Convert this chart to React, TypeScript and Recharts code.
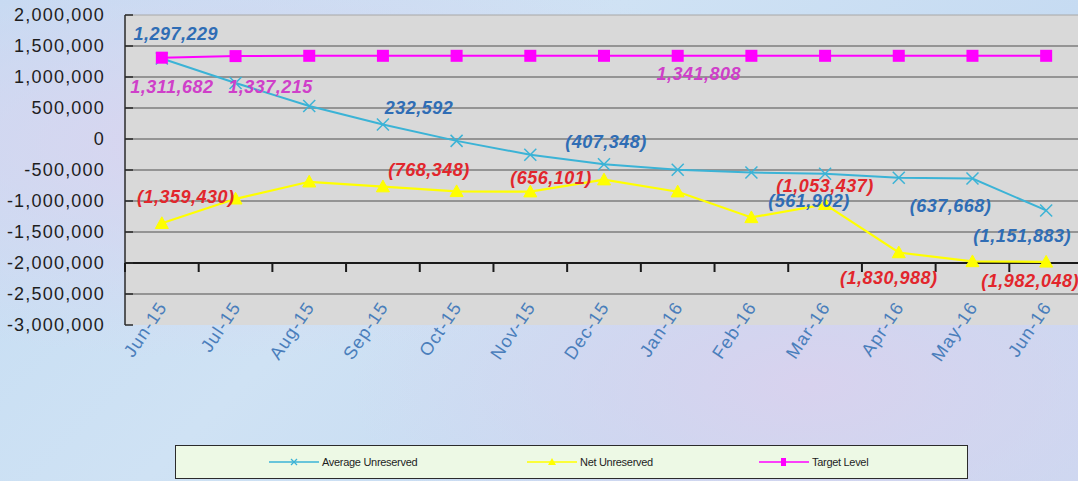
import React from 'react';
import { LineChart, Line, XAxis, YAxis, CartesianGrid, ReferenceLine, LabelList } from 'recharts';

// ---------- data ----------
const months = ['Jun-15', 'Jul-15', 'Aug-15', 'Sep-15', 'Oct-15', 'Nov-15', 'Dec-15', 'Jan-16', 'Feb-16', 'Mar-16', 'Apr-16', 'May-16', 'Jun-16'];
const averageUnreserved = [1297229, 903000, 532000, 232592, -30000, -255000, -407348, -495000, -540000, -561902, -625000, -637668, -1151883];
const netUnreserved = [-1359430, -965000, -690000, -768348, -845000, -850000, -656101, -850000, -1265000, -1053437, -1830988, -1975000, -1982048];
const targetLevel = [1311682, 1337215, 1341808, 1341808, 1341808, 1341808, 1341808, 1341808, 1341808, 1341808, 1341808, 1341808, 1341808];
const yTicks = [2000000, 1500000, 1000000, 500000, 0, -500000, -1000000, -1500000, -2000000, -2500000, -3000000];
const seriesNames = ['Average Unreserved', 'Net Unreserved', 'Target Level'];

// which points carry a data label (index list per series)
const avgLabelIdx = [0, 3, 6, 9, 11, 12];
const netLabelIdx = [0, 3, 6, 9, 10, 12];
const targetLabelIdx = [0, 1, 7];

// ---------- style / layout ----------
const W = 1078;
const H = 481;
const PLOT_TOP = 15;
const PLOT_BOTTOM = 325;
const PLOT_LEFT = 125;
const RIGHT_MARGIN = -5;
const X_AXIS_H = 30;
const Y_MIN = -3000000;
const Y_MAX = 2000000;
const AXIS_CROSS = -2000000;
const yOf = (v: number) => PLOT_TOP + ((Y_MAX - v) / (Y_MAX - Y_MIN)) * (PLOT_BOTTOM - PLOT_TOP);
const BAND = (W - RIGHT_MARGIN - PLOT_LEFT) / months.length;

const C_AVG = '#3bb3d6';
const C_NET = '#ffff00';
const C_TGT = '#ff00ff';
const C_AVG_LBL = '#2f6db5';
const C_NET_LBL = '#e2262c';
const C_TGT_LBL = '#cf3fc9';
const FONT = '"Liberation Sans", Arial, sans-serif';

// label placement offsets (dx, dy from the point), keyed by point index
const avgLabelPos: Record<number, [number, number]> = { 0: [14, -25], 3: [36, -17], 6: [2, -22], 9: [-16, 27], 11: [-22, 27], 12: [-24, 26] };
const netLabelPos: Record<number, [number, number]> = { 0: [24, -26], 3: [46, -17], 6: [-53, -2], 9: [0, -18], 10: [-10, 25], 12: [-16, 19] };
const tgtLabelPos: Record<number, [number, number]> = { 0: [10, 29], 1: [35, 31], 7: [21, 18] };

const fmt = (v: number) => (v < 0 ? `(${Math.abs(v).toLocaleString('en-US')})` : v.toLocaleString('en-US'));

const data = months.map((m, i) => ({
  month: m,
  avg: averageUnreserved[i],
  net: netUnreserved[i],
  target: targetLevel[i],
}));

const makeLabel = (idx: number[], pos: Record<number, [number, number]>, color: string) => (props: any) => {
  const { index, value } = props;
  if (!idx.includes(index)) return null;
  const px = props.x ?? props.viewBox?.x;
  const py = props.y ?? props.viewBox?.y;
  const [dx, dy] = pos[index] || [0, -20];
  return (
    <text
      key={`lbl-${color}-${index}`}
      x={px + dx}
      y={py + dy}
      textAnchor="middle"
      dominantBaseline="central"
      fill={color}
      fontFamily={FONT}
      fontSize={18}
      fontWeight="bold"
      fontStyle="italic"
      letterSpacing={0.5}
    >
      {fmt(value)}
    </text>
  );
};

const XMark = (props: any) => {
  const { cx, cy, index } = props;
  if (cx == null || cy == null) return <g key={`x-${index}`} />;
  const s = 6;
  return (
    <g key={`x-${index}`}>
      <line x1={cx - s} y1={cy - s} x2={cx + s} y2={cy + s} stroke={C_AVG} strokeWidth={1.5} />
      <line x1={cx - s} y1={cy + s} x2={cx + s} y2={cy - s} stroke={C_AVG} strokeWidth={1.5} />
    </g>
  );
};

const TriMark = (props: any) => {
  const { cx, cy, index } = props;
  if (cx == null || cy == null) return <g key={`t-${index}`} />;
  const s = 6.5;
  return <polygon key={`t-${index}`} points={`${cx},${cy - s} ${cx + s},${cy + s * 0.8} ${cx - s},${cy + s * 0.8}`} fill={C_NET} stroke={C_NET} />;
};

const SqMark = (props: any) => {
  const { cx, cy, index } = props;
  if (cx == null || cy == null) return <g key={`s-${index}`} />;
  const s = 6;
  return <rect key={`s-${index}`} x={cx - s} y={cy - s} width={2 * s} height={2 * s} fill={C_TGT} />;
};

const XTick = (props: any) => {
  const { x, payload, index } = props;
  const half = BAND / 2;
  const yc = yOf(AXIS_CROSS);
  return (
    <g>
      <line x1={x - half} x2={x - half} y1={yc} y2={yc + 9} stroke="#1a1a1a" strokeWidth={2} />
      {index === months.length - 1 && <line x1={x + half} x2={x + half} y1={yc} y2={yc + 9} stroke="#1a1a1a" strokeWidth={2} />}
      <text
        transform={`translate(${x + 6},${PLOT_BOTTOM - 18}) rotate(-56)`}
        textAnchor="end"
        fill="#4a7ebb"
        fontFamily={FONT}
        fontSize={18}
        letterSpacing={1.2}
      >
        {payload.value}
      </text>
    </g>
  );
};

const LegendIcon = ({ kind, color }: { kind: string; color: string }) => (
  <svg width={50} height={12} style={{ display: 'block' }}>
    <line x1={0} y1={6} x2={50} y2={6} stroke={color} strokeWidth={1.5} />
    {kind === 'x' && (
      <g>
        <line x1={22} y1={3} x2={28} y2={9} stroke={color} strokeWidth={1.2} />
        <line x1={22} y1={9} x2={28} y2={3} stroke={color} strokeWidth={1.2} />
      </g>
    )}
    {kind === 'tri' && <polygon points="25,2 29,9 21,9" fill={color} />}
    {kind === 'sq' && <rect x={22} y={2} width={5} height={8} fill={color} />}
  </svg>
);

const legendItems = [
  { name: seriesNames[0], color: C_AVG, kind: 'x', left: 93 },
  { name: seriesNames[1], color: C_NET, kind: 'tri', left: 351 },
  { name: seriesNames[2], color: C_TGT, kind: 'sq', left: 583 },
];

export default function App() {
  return (
    <div
      style={{
        position: 'absolute',
        left: 0,
        top: 0,
        width: W,
        height: H,
        overflow: 'hidden',
        background:
          'radial-gradient(ellipse at 20% 30%, #d9d4ef 0%, rgba(217,212,239,0) 45%), radial-gradient(ellipse at 75% 80%, #d8d2ee 0%, rgba(216,210,238,0) 40%), linear-gradient(135deg, #c3dcf3 0%, #cfe2f4 40%, #c6dbf2 70%, #cbd9f1 100%)',
      }}
    >
      <LineChart
        width={W}
        height={H}
        data={data}
        margin={{ top: PLOT_TOP, right: RIGHT_MARGIN, left: 0, bottom: H - PLOT_BOTTOM - X_AXIS_H }}
      >
        <CartesianGrid
          vertical={false}
          horizontalValues={[1500000, 1000000, 500000, 0, -500000, -1000000, -1500000, -2500000]}
          stroke="#7c7c7c"
          strokeWidth={1.5}
          fill="#d9d9d9"
          fillOpacity={1}
        />
        <XAxis
          dataKey="month"
          height={X_AXIS_H}
          axisLine={false}
          tickLine={false}
          tickSize={0}
          tickMargin={0}
          interval={0}
          padding={{ left: BAND / 2, right: BAND / 2 }}
          tick={<XTick />}
        />
        <YAxis
          domain={[Y_MIN, Y_MAX]}
          ticks={yTicks}
          width={PLOT_LEFT}
          allowDataOverflow
          tickFormatter={(v: number) => v.toLocaleString('en-US')}
          axisLine={{ stroke: '#2a2a2a', strokeWidth: 1.5 }}
          tickLine={{ stroke: '#2a2a2a', strokeWidth: 1.5 }}
          tickSize={-8}
          tickMargin={28}
          tick={{ fill: '#1e1e1e', fontSize: 18, fontFamily: FONT, letterSpacing: 1.2 } as any}
        />
        <ReferenceLine y={Y_MAX} stroke="#a8a8a8" strokeWidth={1} />
        <ReferenceLine y={AXIS_CROSS} stroke="#1a1a1a" strokeWidth={2.2} />
        <Line
          type="linear"
          dataKey="net"
          name={seriesNames[1]}
          stroke={C_NET}
          strokeWidth={2.2}
          dot={<TriMark />}
          activeDot={false}
          isAnimationActive={false}
        >
          <LabelList dataKey="net" content={makeLabel(netLabelIdx, netLabelPos, C_NET_LBL)} />
        </Line>
        <Line
          type="linear"
          dataKey="avg"
          name={seriesNames[0]}
          stroke={C_AVG}
          strokeWidth={2}
          dot={<XMark />}
          activeDot={false}
          isAnimationActive={false}
        >
          <LabelList dataKey="avg" content={makeLabel(avgLabelIdx, avgLabelPos, C_AVG_LBL)} />
        </Line>
        <Line
          type="linear"
          dataKey="target"
          name={seriesNames[2]}
          stroke={C_TGT}
          strokeWidth={2}
          dot={<SqMark />}
          activeDot={false}
          isAnimationActive={false}
        >
          <LabelList dataKey="target" content={makeLabel(targetLabelIdx, tgtLabelPos, C_TGT_LBL)} />
        </Line>
      </LineChart>
      <div
        style={{
          position: 'absolute',
          left: 175,
          top: 445,
          width: 791,
          height: 32,
          background: '#edf9e5',
          border: '1.5px solid #2b2b2b',
          fontFamily: '"Liberation Sans Narrow", "Liberation Sans", Arial, sans-serif',
          fontSize: 11,
          color: '#1e1e1e',
        }}
      >
        {legendItems.map((it) => (
          <div
            key={it.name}
            style={{ position: 'absolute', left: it.left, top: 10, display: 'flex', alignItems: 'center', gap: 3, whiteSpace: 'nowrap' }}
          >
            <LegendIcon kind={it.kind} color={it.color} />
            <span style={{ letterSpacing: -0.3 }}>{it.name}</span>
          </div>
        ))}
      </div>
    </div>
  );
}
